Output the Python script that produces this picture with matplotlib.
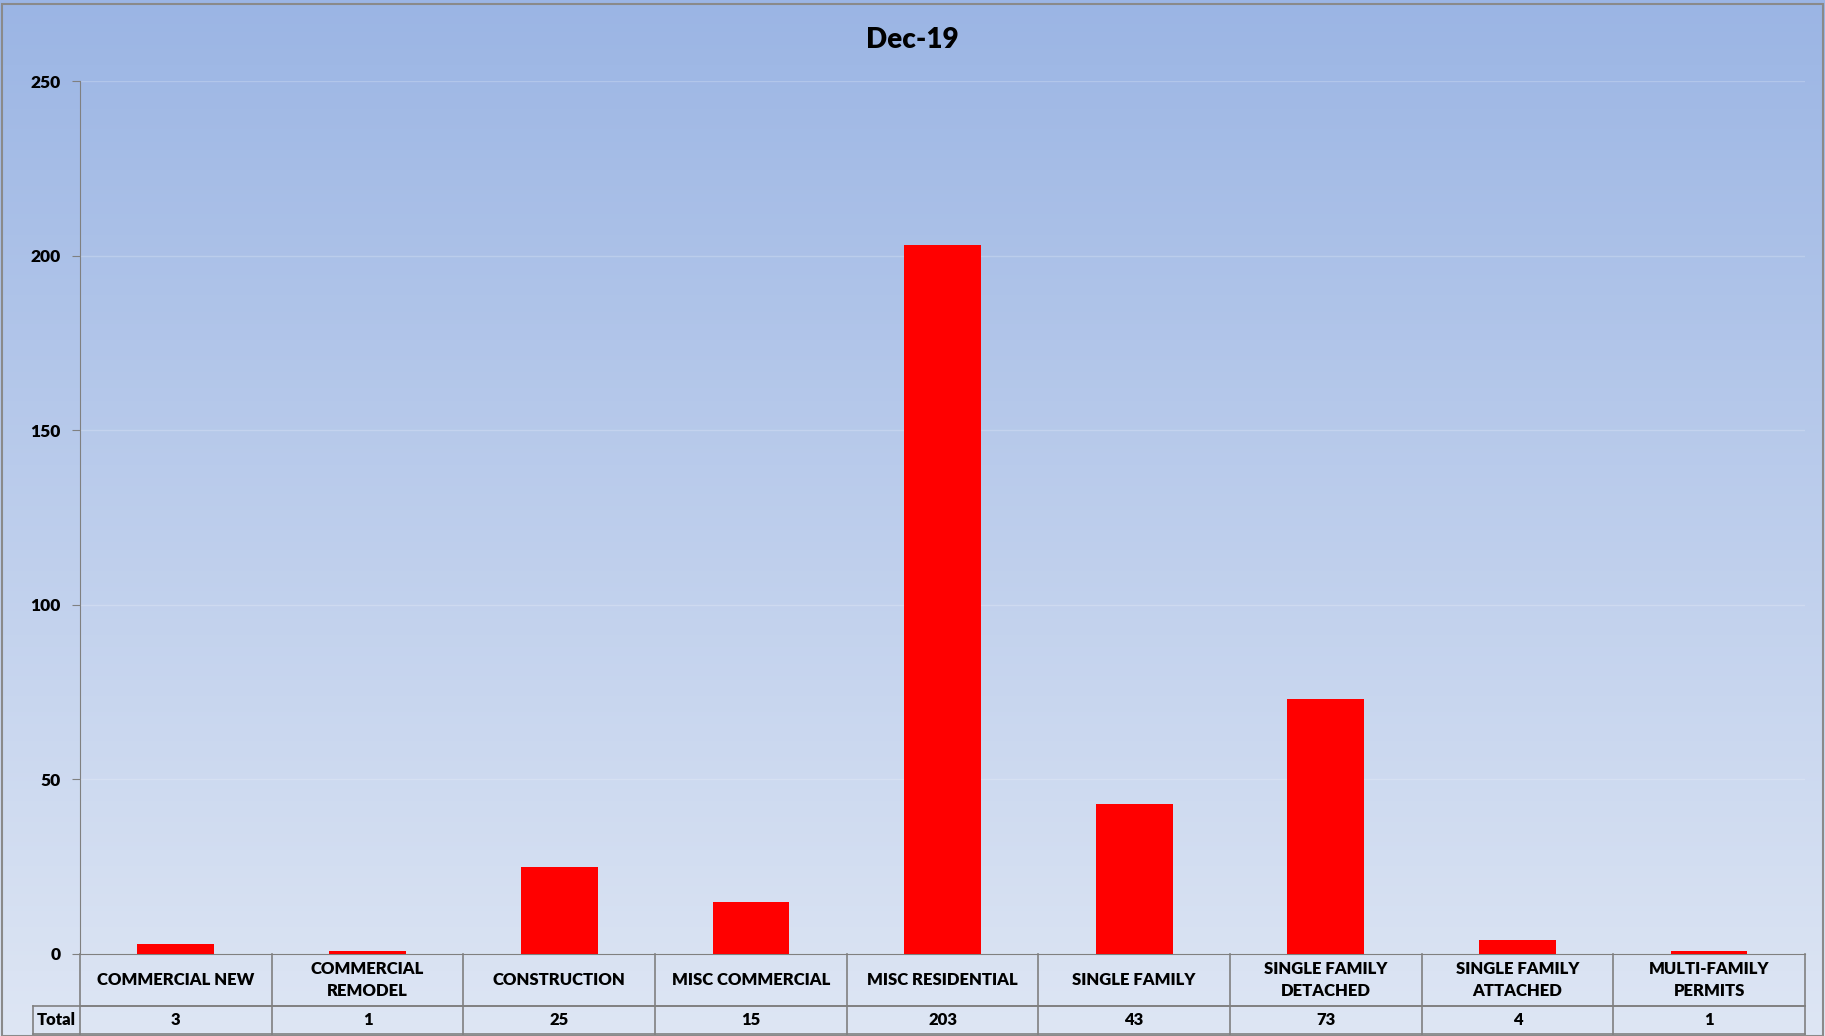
import matplotlib.pyplot as plt
import numpy as np
from matplotlib.patches import Rectangle
from matplotlib.lines import Line2D

categories = ['COMMERCIAL NEW', 'COMMERCIAL\nREMODEL', 'CONSTRUCTION', 'MISC COMMERCIAL',
              'MISC RESIDENTIAL', 'SINGLE FAMILY', 'SINGLE FAMILY\nDETACHED',
              'SINGLE FAMILY\nATTACHED', 'MULTI-FAMILY\nPERMITS']
totals = [3, 1, 25, 15, 203, 43, 73, 4, 1]
yticks = [0, 50, 100, 150, 200, 250]

plt.rcParams['font.family'] = ['Lato', 'DejaVu Sans']
WT = 'heavy'

W, H = 1825, 1036
fig = plt.figure(figsize=(W / 100, H / 100), dpi=100)

# gradient background
bg = fig.add_axes([0, 0, 1, 1], zorder=-10)
top = np.array([155, 181, 228]) / 255
bot = np.array([222, 230, 244]) / 255
t = np.linspace(0, 1, 256)[:, None]
grad = top + (bot - top) * t
bg.imshow(grad[:, None, :], aspect='auto', extent=[0, 1, 0, 1])
bg.set_xlim(0, 1)
bg.set_ylim(0, 1)
bg.axis('off')
bg.add_patch(Rectangle((0.001, 0.0), 0.998, 0.996, fill=False, ec='#8a8a8a', lw=1.5,
                       transform=fig.transFigure))

# axes placement in pixels
x0, x1 = 80, 1805
y_top, y_zero = 81, 954
ax = fig.add_axes([x0 / W, 1 - y_zero / H, (x1 - x0) / W, (y_zero - y_top) / H])
ax.set_facecolor('none')

x = np.arange(len(categories))
ax.bar(x, totals, width=0.4, color='#ff0000', zorder=3)
ax.set_xlim(-0.5, len(categories) - 0.5)
ax.set_ylim(0, 250)
ax.set_yticks(yticks)
ax.set_yticklabels([str(v) for v in yticks], fontsize=12.5, fontweight=WT)
ax.yaxis.grid(True, color='white', alpha=0.2, lw=1)
ax.set_axisbelow(True)
ax.set_xticks([])
for s in ['top', 'right']:
    ax.spines[s].set_visible(False)
ax.spines['left'].set_color('#808080')
ax.spines['bottom'].set_color('#808080')
ax.tick_params(axis='y', direction='out', length=6, color='#808080', pad=8)

fig.text(0.5, 1 - 40 / H, 'Dec-19', ha='center', va='center', fontsize=20, fontweight=WT)

# data table below the axes
row1_bot, row2_bot = 1006, 1034
cw = (x1 - x0) / len(categories)
gc = '#808080'


def fx(px):
    return px / W


def fy(py):
    return 1 - py / H


lines = []
lines.append(([fx(x0), fx(x1)], [fy(row1_bot)] * 2))
lines.append(([fx(33), fx(x1)], [fy(row1_bot)] * 2))
lines.append(([fx(33), fx(x1)], [fy(row2_bot)] * 2))
lines.append(([fx(33), fx(33)], [fy(row1_bot), fy(row2_bot)]))
for i in range(len(categories) + 1):
    xp = x0 + i * cw
    lines.append(([fx(xp)] * 2, [fy(y_zero), fy(row2_bot)]))
for lx, ly in lines:
    fig.add_artist(Line2D(lx, ly, color=gc, lw=1.2, transform=fig.transFigure))

fig.text(fx((33 + x0) / 2), fy((row1_bot + row2_bot) / 2), 'Total', ha='center',
         va='center', fontsize=12, fontweight=WT)
for i, (c, v) in enumerate(zip(categories, totals)):
    xc = x0 + (i + 0.5) * cw
    fig.text(fx(xc), fy((y_zero + row1_bot) / 2), c, ha='center', va='center',
             fontsize=12, fontweight=WT, linespacing=1.45)
    fig.text(fx(xc), fy((row1_bot + row2_bot) / 2), str(v), ha='center', va='center',
             fontsize=12, fontweight=WT)

fig.savefig('out.png', dpi=100)
